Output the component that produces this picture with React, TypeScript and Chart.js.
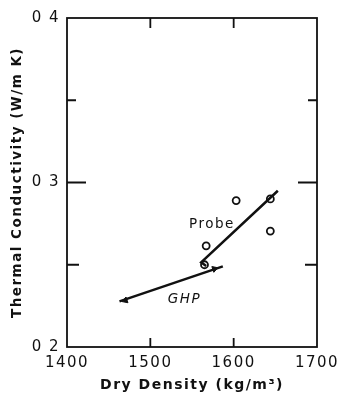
import React, { useEffect, useRef } from "react";
import { Chart, registerables } from "chart.js";

Chart.register(...registerables);

const xTicks = [1400, 1500, 1600, 1700];
const yTickLabels: Record<string, string> = { "0.2": "0 2", "0.3": "0 3", "0.4": "0 4" };

const probeX = [1603, 1644, 1644, 1567, 1565];
const probeY = [0.289, 0.29, 0.2705, 0.2615, 0.25];

const probeLineX = [1567, 1561, 1653];
const probeLineY = [0.2493, 0.2515, 0.295];

const ghpLineX = [1463, 1587];
const ghpLineY = [0.2277, 0.249];

const ghpPointX = [1470, 1577];
const ghpPointY = [0.2283, 0.2475];
const ghpPointRot = [-109, 71];

const labels = [
  { text: "Probe", x: 1574, y: 0.2743, italic: false },
  { text: "GHP", x: 1541, y: 0.2291, italic: true },
];

const FONT = "'DejaVu Sans', 'Liberation Sans', sans-serif";
const LEFT_PAD = 9;
const RIGHT_PAD = 25;
const AREA_LEFT = 67;
const AREA_BOTTOM = 347;
const H = 397;

const spacingPlugin = {
  id: "spacing",
  beforeUpdate(chart: any) {
    chart.ctx.letterSpacing = "1.5px";
  },
  beforeDraw(chart: any) {
    chart.ctx.letterSpacing = "1.5px";
  },
};

const framePlugin = {
  id: "frame",
  afterDatasetsDraw(chart: any) {
    const { ctx, chartArea: a, scales } = chart;
    const xs = scales.x;
    const ys = scales.y;
    ctx.save();
    ctx.strokeStyle = "#111";
    ctx.lineWidth = 1.8;
    ctx.strokeRect(a.left, a.top, a.right - a.left, a.bottom - a.top);
    [1500, 1600].forEach((v) => {
      const px = xs.getPixelForValue(v);
      ctx.beginPath();
      ctx.moveTo(px, a.bottom);
      ctx.lineTo(px, a.bottom - 9);
      ctx.moveTo(px, a.top);
      ctx.lineTo(px, a.top + 10);
      ctx.stroke();
    });
    [
      [0.25, 12],
      [0.3, 19],
      [0.35, 9],
    ].forEach(([v, len]) => {
      const py = ys.getPixelForValue(v);
      ctx.beginPath();
      ctx.moveTo(a.left, py);
      ctx.lineTo(a.left + len, py);
      ctx.moveTo(a.right, py);
      ctx.lineTo(a.right - len, py);
      ctx.stroke();
    });
    ctx.fillStyle = "#111";
    ctx.textAlign = "center";
    ctx.textBaseline = "middle";
    labels.forEach((l) => {
      ctx.font = `${l.italic ? "italic " : ""}13.5px ${FONT}`;
      ctx.fillText(l.text, xs.getPixelForValue(l.x), ys.getPixelForValue(l.y));
    });
    ctx.restore();
  },
};

export default function App() {
  const ref = useRef<HTMLCanvasElement>(null);
  useEffect(() => {
    document.body.style.margin = "0";
    const chart = new Chart(ref.current!, {
      type: "scatter",
      data: {
        datasets: [
          {
            type: "line",
            data: probeLineX.map((x, i) => ({ x, y: probeLineY[i] })),
            borderColor: "#111",
            borderWidth: 2.5,
            pointRadius: 0,
          },
          {
            type: "line",
            data: ghpLineX.map((x, i) => ({ x, y: ghpLineY[i] })),
            borderColor: "#111",
            borderWidth: 2.5,
            pointRadius: 0,
          },
          {
            data: ghpPointX.map((x, i) => ({ x, y: ghpPointY[i] })),
            pointStyle: "triangle",
            rotation: ghpPointRot,
            pointRadius: 3.5,
            backgroundColor: "#111",
            borderColor: "#111",
          },
          {
            data: probeX.map((x, i) => ({ x, y: probeY[i] })),
            pointRadius: 3.5,
            backgroundColor: "#fff",
            borderColor: "#111",
            borderWidth: 1.8,
          },
        ],
      },
      options: {
        animation: false,
        responsive: false,
        layout: { padding: { top: 18, right: RIGHT_PAD, left: LEFT_PAD, bottom: 0 } },
        plugins: { legend: { display: false }, tooltip: { enabled: false } },
        scales: {
          x: {
            type: "linear",
            min: 1400,
            max: 1700,
            afterBuildTicks: (s: any) => {
              s.ticks = xTicks.map((v) => ({ value: v }));
            },
            afterFit: (s: any) => {
              s.height = H - AREA_BOTTOM;
              s.paddingLeft = 0;
              s.paddingRight = 0;
            },
            grid: { display: false, drawTicks: false },
            border: { display: false },
            ticks: {
              color: "#111",
              font: { family: FONT, size: 15 },
              padding: 7,
              maxRotation: 0,
              callback: (v: any) => String(v),
            },
            title: {
              display: true,
              text: "Dry Density (kg/m³)",
              color: "#111",
              font: { family: FONT, size: 14, weight: "bold" },
              padding: { top: 3, bottom: 3 },
            },
          },
          y: {
            type: "linear",
            min: 0.2,
            max: 0.4,
            afterBuildTicks: (s: any) => {
              s.ticks = [0.2, 0.3, 0.4].map((v) => ({ value: v }));
            },
            afterFit: (s: any) => {
              s.width = AREA_LEFT - LEFT_PAD;
              s.paddingTop = 0;
              s.paddingBottom = 0;
            },
            grid: { display: false, drawTicks: false },
            border: { display: false },
            ticks: {
              color: "#111",
              font: { family: FONT, size: 15 },
              padding: 7,
              callback: (v: any) => yTickLabels[Number(v).toFixed(1)] ?? "",
            },
            title: {
              display: true,
              text: "Thermal Conductivity (W/m K)",
              color: "#111",
              font: { family: FONT, size: 13.5, weight: "bold" },
              padding: { top: 0, bottom: 4 },
            },
          },
        },
      },
      plugins: [spacingPlugin, framePlugin],
    });
    return () => chart.destroy();
  }, []);
  return (
    <div style={{ position: "absolute", left: 0, top: 0, width: 342, height: 397 }}>
      <canvas ref={ref} width={342} height={397} />
    </div>
  );
}
